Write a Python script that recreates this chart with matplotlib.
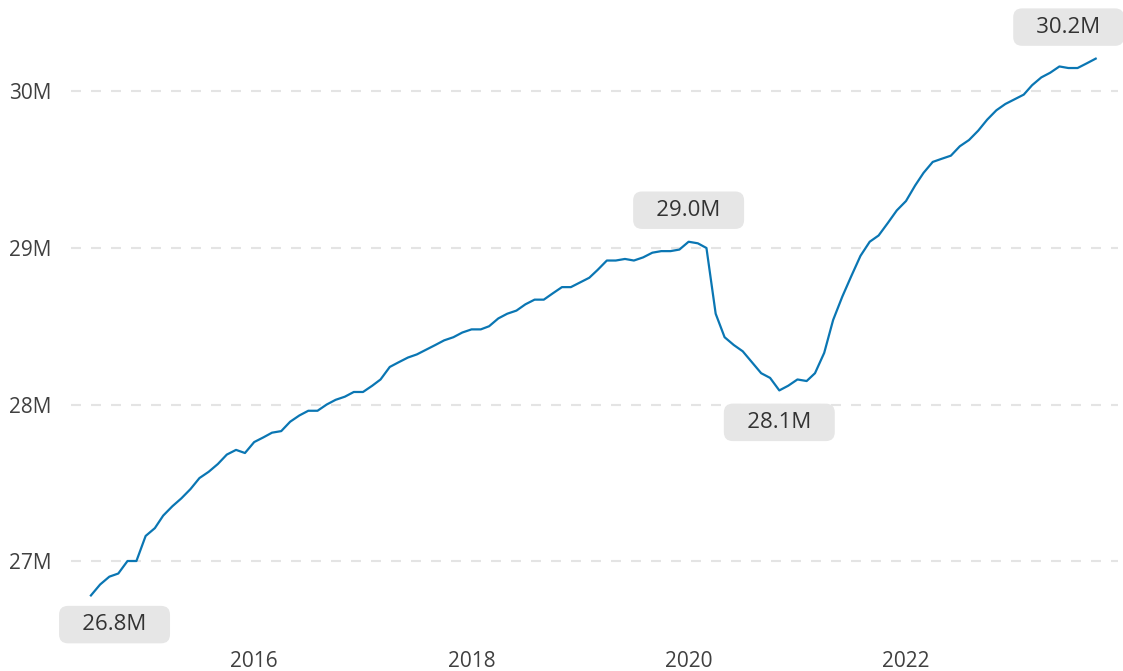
import matplotlib
matplotlib.use('Agg')
import matplotlib.pyplot as plt
import pandas as pd

# monthly values, millions, starting Jul 2014
start_month = '2014-07-01'
values_m = [
    26.78, 26.85, 26.90, 26.92, 27.00, 27.00, 27.16, 27.21, 27.29, 27.35,
    27.40, 27.46, 27.53, 27.57, 27.62, 27.68, 27.71, 27.69, 27.76, 27.79,
    27.82, 27.83, 27.89, 27.93, 27.96, 27.96, 28.00, 28.03, 28.05, 28.08,
    28.08, 28.12, 28.16, 28.24, 28.27, 28.30, 28.32, 28.35, 28.38, 28.41,
    28.43, 28.46, 28.48, 28.48, 28.50, 28.55, 28.58, 28.60, 28.64, 28.67,
    28.67, 28.71, 28.75, 28.75, 28.78, 28.81, 28.86, 28.92, 28.92, 28.93,
    28.92, 28.94, 28.97, 28.98, 28.98, 28.99, 29.04, 29.03, 29.00, 28.58,
    28.43, 28.38, 28.34, 28.27, 28.20, 28.17, 28.09, 28.12, 28.16, 28.15,
    28.20, 28.33, 28.54, 28.69, 28.82, 28.95, 29.04, 29.08, 29.16, 29.24,
    29.30, 29.40, 29.48, 29.55, 29.57, 29.59, 29.65, 29.69, 29.75, 29.82,
    29.88, 29.92, 29.95, 29.98, 30.04, 30.09, 30.12, 30.16, 30.15, 30.15,
    30.18, 30.21,
]
tick_years = [2016, 2018, 2020, 2022]
y_ticks = [27, 28, 29, 30]

months = pd.date_range(start_month, periods=len(values_m), freq='MS')

plt.rcParams['font.family'] = ['Open Sans', 'DejaVu Sans']

fig = plt.figure(figsize=(11.23, 6.71), dpi=100)
ax = fig.add_axes([71 / 1123, 26 / 671, 1047 / 1123, 640 / 671])

ax.plot(months, values_m, color='#0a76b3', lw=1.6, solid_joinstyle='round')

ax.set_xlim(pd.Timestamp('2014-04-25'), pd.Timestamp('2023-12-15'))
ax.set_ylim(26.4633, 30.5527)

ax.set_xticks([pd.Timestamp(f'{y}-01-01') for y in tick_years])
ax.set_xticklabels([str(y) for y in tick_years])
ax.set_yticks(y_ticks)
ax.set_yticklabels([f'{v}M' for v in y_ticks])
ax.tick_params(axis='both', length=0, labelsize=15, labelcolor='#404040')
ax.tick_params(axis='x', pad=4)
ax.tick_params(axis='y', pad=14)

ax.grid(axis='y', color='#e4e4e4', lw=1.5, linestyle=(0, (4.8, 4.8)))
ax.grid(axis='x', visible=False)
for s in ax.spines.values():
    s.set_visible(False)

box = dict(boxstyle='round,pad=0.37,rounding_size=0.4', fc='#e6e6e6', ec='none')

# pre-2020 peak and the trough after it
i_peak = values_m.index(max(values_m[:80]))
i_trough = values_m.index(min(values_m[i_peak:]))
labels = [
    (0, (17, -21)),
    (i_peak, (0, 22.7)),
    (i_trough, (0, -23)),
    (len(values_m) - 1, (-19.5, 22.7)),
]
pad_txt = '  \u2009'
for i, off in labels:
    ax.annotate(f'{pad_txt}{values_m[i]:.1f}M{pad_txt}', xy=(months[i], values_m[i]), xytext=off,
                textcoords='offset points', ha='center', va='center',
                fontsize=16, color='#333333', bbox=box, annotation_clip=False)

fig.savefig('out.png', dpi=100)
